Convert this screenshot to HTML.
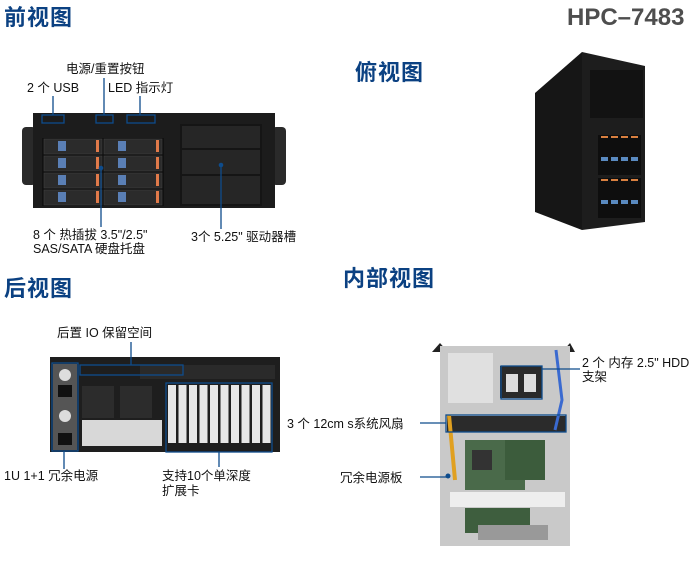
<!DOCTYPE html>
<html><head><meta charset="utf-8"><style>
body{margin:0;width:700px;height:567px;background:#fff;position:relative;overflow:hidden;font-family:"Liberation Sans","Noto Sans CJK SC",sans-serif}
.t{position:absolute;font-weight:bold;color:#0b4182;font-size:22px;line-height:26px;letter-spacing:1px}
.l{position:absolute;font-size:12.5px;line-height:14px;color:#111;white-space:nowrap}
svg{position:absolute;left:0;top:0}
</style></head><body>
<div class="t" style="left:4px;top:5px">前视图</div>
<div class="t" style="left:355px;top:60px">俯视图</div>
<div class="t" style="left:4px;top:276px">后视图</div>
<div class="t" style="left:343px;top:266px">内部视图</div>
<div style="position:absolute;left:567px;top:4px;font-weight:bold;font-size:24px;color:#4e4e4e;line-height:28px">HPC–7483</div>

<div class="l" style="left:66px;top:62px">电源/重置按钮</div>
<div class="l" style="left:27px;top:81px">2 个 USB</div>
<div class="l" style="left:108px;top:81px">LED 指示灯</div>
<div class="l" style="left:33px;top:228px">8 个 热插拔 3.5"/2.5"</div>
<div class="l" style="left:33px;top:242px">SAS/SATA 硬盘托盘</div>
<div class="l" style="left:191px;top:230px">3个 5.25" 驱动器槽</div>
<div class="l" style="left:57px;top:326px">后置 IO 保留空间</div>
<div class="l" style="left:4px;top:469px">1U 1+1 冗余电源</div>
<div class="l" style="left:162px;top:469px">支持10个单深度</div>
<div class="l" style="left:162px;top:484px">扩展卡</div>
<div class="l" style="left:582px;top:356px">2 个 内存 2.5" HDD</div>
<div class="l" style="left:582px;top:370px">支架</div>
<div class="l" style="left:287px;top:417px">3 个 12cm s系统风扇</div>
<div class="l" style="left:340px;top:471px">冗余电源板</div>

<svg width="700" height="567" viewBox="0 0 700 567">
<!-- front chassis -->
<rect x="22" y="127" width="14" height="58" rx="4" fill="#2a2a2a"/>
<rect x="272" y="127" width="14" height="58" rx="4" fill="#2a2a2a"/>
<rect x="33" y="113" width="242" height="95" fill="#1c1c1c"/>
<rect x="42" y="138" width="122" height="68" fill="#111"/>
<g fill="#2b2b2b" stroke="#444" stroke-width="0.5">
<rect x="44" y="139" width="58" height="15"/><rect x="104" y="139" width="58" height="15"/>
<rect x="44" y="156" width="58" height="15"/><rect x="104" y="156" width="58" height="15"/>
<rect x="44" y="173" width="58" height="15"/><rect x="104" y="173" width="58" height="15"/>
<rect x="44" y="190" width="58" height="15"/><rect x="104" y="190" width="58" height="15"/>
</g>
<g fill="#5a7fb5">
<rect x="58" y="141" width="8" height="10"/><rect x="118" y="141" width="8" height="10"/>
<rect x="58" y="158" width="8" height="10"/><rect x="118" y="158" width="8" height="10"/>
<rect x="58" y="175" width="8" height="10"/><rect x="118" y="175" width="8" height="10"/>
<rect x="58" y="192" width="8" height="10"/><rect x="118" y="192" width="8" height="10"/>
</g>
<g fill="#e07a4a">
<rect x="96" y="140" width="3" height="12"/><rect x="156" y="140" width="3" height="12"/>
<rect x="96" y="157" width="3" height="12"/><rect x="156" y="157" width="3" height="12"/>
<rect x="96" y="174" width="3" height="12"/><rect x="156" y="174" width="3" height="12"/>
<rect x="96" y="191" width="3" height="12"/><rect x="156" y="191" width="3" height="12"/>
</g>
<rect x="180" y="124" width="82" height="82" fill="#151515"/>
<rect x="182" y="126" width="78" height="22" fill="#262626"/>
<rect x="182" y="150" width="78" height="24" fill="#262626"/>
<rect x="182" y="176" width="78" height="28" fill="#262626"/>
<g fill="none" stroke="#0e4c8c" stroke-width="1.3">
<rect x="42" y="115" width="22" height="8"/><rect x="96" y="115" width="17" height="8"/><rect x="127" y="115" width="28" height="8"/>
<line x1="53" y1="96" x2="53" y2="115"/><line x1="104" y1="78" x2="104" y2="115"/><line x1="140" y1="96" x2="140" y2="115"/>
<line x1="101" y1="168" x2="101" y2="227"/><line x1="221" y1="165" x2="221" y2="229"/>
</g>
<circle cx="101" cy="168" r="2.3" fill="#0e4c8c"/><circle cx="221" cy="165" r="2.3" fill="#0e4c8c"/>

<!-- tower -->
<polygon points="535,93 582,52 582,230 535,212" fill="#161616"/>
<polygon points="582,52 645,66 645,222 582,230" fill="#1d1d1d"/>
<rect x="590" y="70" width="53" height="48" fill="#121212"/>
<rect x="598" y="135" width="43" height="40" fill="#0e0e0e"/>
<rect x="598" y="178" width="43" height="40" fill="#0e0e0e"/>
<g fill="#5a8ac0"><rect x="601" y="157" width="7" height="4"/><rect x="611" y="157" width="7" height="4"/><rect x="621" y="157" width="7" height="4"/><rect x="631" y="157" width="7" height="4"/>
<rect x="601" y="200" width="7" height="4"/><rect x="611" y="200" width="7" height="4"/><rect x="621" y="200" width="7" height="4"/><rect x="631" y="200" width="7" height="4"/></g>
<g fill="#d98040"><rect x="601" y="136" width="7" height="2"/><rect x="611" y="136" width="7" height="2"/><rect x="621" y="136" width="7" height="2"/><rect x="631" y="136" width="7" height="2"/>
<rect x="601" y="179" width="7" height="2"/><rect x="611" y="179" width="7" height="2"/><rect x="621" y="179" width="7" height="2"/><rect x="631" y="179" width="7" height="2"/></g>

<!-- rear chassis -->
<rect x="50" y="357" width="230" height="95" fill="#1e1e1e"/>
<rect x="53" y="364" width="24" height="86" fill="#555"/>
<circle cx="65" cy="375" r="6" fill="#ddd"/><circle cx="65" cy="416" r="6" fill="#ddd"/>
<rect x="58" y="385" width="14" height="12" fill="#111"/><rect x="58" y="433" width="14" height="12" fill="#111"/>
<rect x="82" y="386" width="32" height="32" fill="#2c2c2c"/><rect x="120" y="386" width="32" height="32" fill="#2c2c2c"/>
<rect x="82" y="420" width="80" height="26" fill="#d8d8d8"/>
<rect x="140" y="365" width="135" height="14" fill="#2a2a2a"/>
<g fill="#e6e6e6">
<rect x="168" y="385" width="8" height="58"/><rect x="178.5" y="385" width="8" height="58"/><rect x="189" y="385" width="8" height="58"/><rect x="199.5" y="385" width="8" height="58"/><rect x="210" y="385" width="8" height="58"/>
<rect x="220.5" y="385" width="8" height="58"/><rect x="231" y="385" width="8" height="58"/><rect x="241.5" y="385" width="8" height="58"/><rect x="252" y="385" width="8" height="58"/><rect x="262.5" y="385" width="8" height="58"/>
</g>
<g fill="none" stroke="#0e4c8c" stroke-width="1.3">
<rect x="52" y="363" width="26" height="88"/><rect x="80" y="365" width="103" height="10"/><rect x="166" y="383" width="106" height="69"/>
<line x1="131" y1="342" x2="131" y2="365"/><line x1="64" y1="451" x2="64" y2="469"/><line x1="219" y1="452" x2="219" y2="467"/>
</g>

<!-- internal -->
<polygon points="432,352 440,343 448,352" fill="#222"/><polygon points="562,352 570,343 575,352" fill="#222"/>
<rect x="440" y="346" width="130" height="200" fill="#c9c9c9"/>
<rect x="448" y="353" width="45" height="50" fill="#e0e0e0"/>
<rect x="500" y="366" width="42" height="32" fill="#2a2a2a"/>
<rect x="506" y="374" width="12" height="18" fill="#ddd"/><rect x="524" y="374" width="12" height="18" fill="#ddd"/>
<rect x="447" y="416" width="119" height="16" fill="#2b2b2b"/>
<rect x="465" y="440" width="60" height="50" fill="#4a6a4a"/>
<rect x="472" y="450" width="20" height="20" fill="#333"/>
<rect x="505" y="440" width="40" height="40" fill="#3c5c3c"/>
<rect x="450" y="492" width="115" height="15" fill="#eee"/>
<rect x="465" y="508" width="65" height="25" fill="#3e5e3e"/>
<rect x="478" y="525" width="70" height="15" fill="#999"/>
<path d="M449 415 L455 480" stroke="#e0a020" stroke-width="4" fill="none"/>
<path d="M556 350 L562 400 L555 430" stroke="#3a6ad0" stroke-width="3" fill="none"/>
<g fill="none" stroke="#0e4c8c" stroke-width="1.3">
<rect x="501" y="366" width="41" height="33"/><rect x="446" y="415" width="120" height="17"/>
<line x1="542" y1="369" x2="580" y2="369"/><line x1="420" y1="423" x2="446" y2="423"/><line x1="420" y1="477" x2="447" y2="477"/>
</g>
<circle cx="448" cy="476" r="2.5" fill="#0e4c8c"/>
</svg>
</body></html>
